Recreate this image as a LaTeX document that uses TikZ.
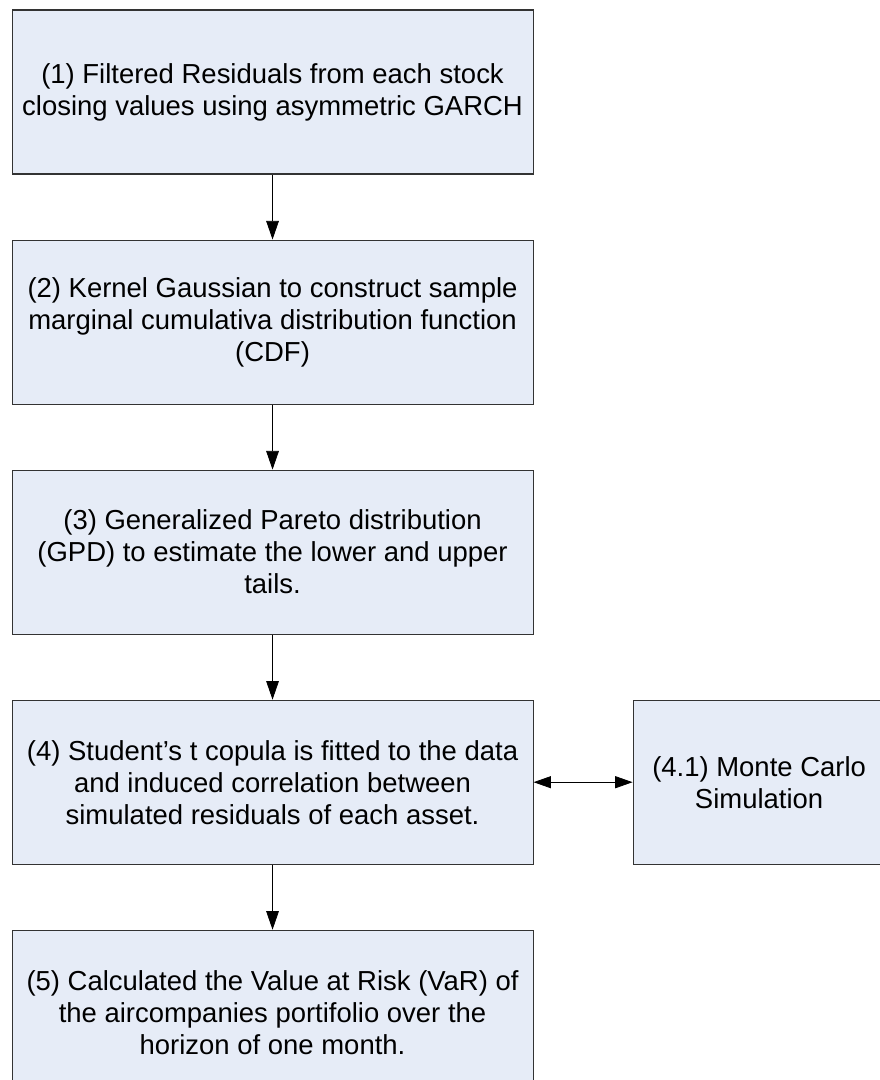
\documentclass[tikz,border=0pt]{standalone}
\usepackage{fontspec}
\setmainfont{Liberation Sans}
\usetikzlibrary{positioning,arrows.meta}
\definecolor{boxfill}{RGB}{230,236,247}

\begin{document}
\begin{tikzpicture}[
  node distance=48.75pt,
  stepbox/.style={draw=black!80, fill=boxfill, rectangle, line width=0.8pt, minimum width=390.75pt, minimum height=123pt, inner sep=0pt, align=center, font=\fontsize{20.6}{24}\selectfont},
  sidebox/.style={stepbox, minimum width=189pt},
  flow/.style={-{Triangle[length=14pt,width=9.5pt]}, line width=0.6pt},
  both/.style={{Triangle[length=13pt,width=9pt]}-{Triangle[length=13pt,width=9pt]}, line width=0.6pt},
]
\useasboundingbox (0,0) rectangle (660pt,-810pt);
\node[stepbox] (s1) at (204.4pt,-69pt) {(1) Filtered Residuals from each stock\\closing values using asymmetric GARCH};
\node[stepbox, below=of s1] (s2) {(2) Kernel Gaussian to construct sample\\marginal cumulativa distribution function\\(CDF)};
\node[stepbox, below=of s2] (s3) {(3) Generalized Pareto distribution\\(GPD) to estimate the lower and upper\\tails.};
\node[stepbox, below=of s3] (s4) {(4) Student's t copula is fitted to the data\\and induced correlation between\\simulated residuals of each asset.};
\node[sidebox, right=74.25pt of s4] (mc) {(4.1) Monte Carlo\\Simulation};
\node[stepbox, below=of s4] (s5) {(5) Calculated the Value at Risk (VaR) of\\the aircompanies portifolio over the\\horizon of one month.};
\draw[flow] (s1) -- (s2);
\draw[flow] (s2) -- (s3);
\draw[flow] (s3) -- (s4);
\draw[flow] (s4) -- (s5);
\draw[both] (s4) -- (mc);
\end{tikzpicture}
\end{document}
